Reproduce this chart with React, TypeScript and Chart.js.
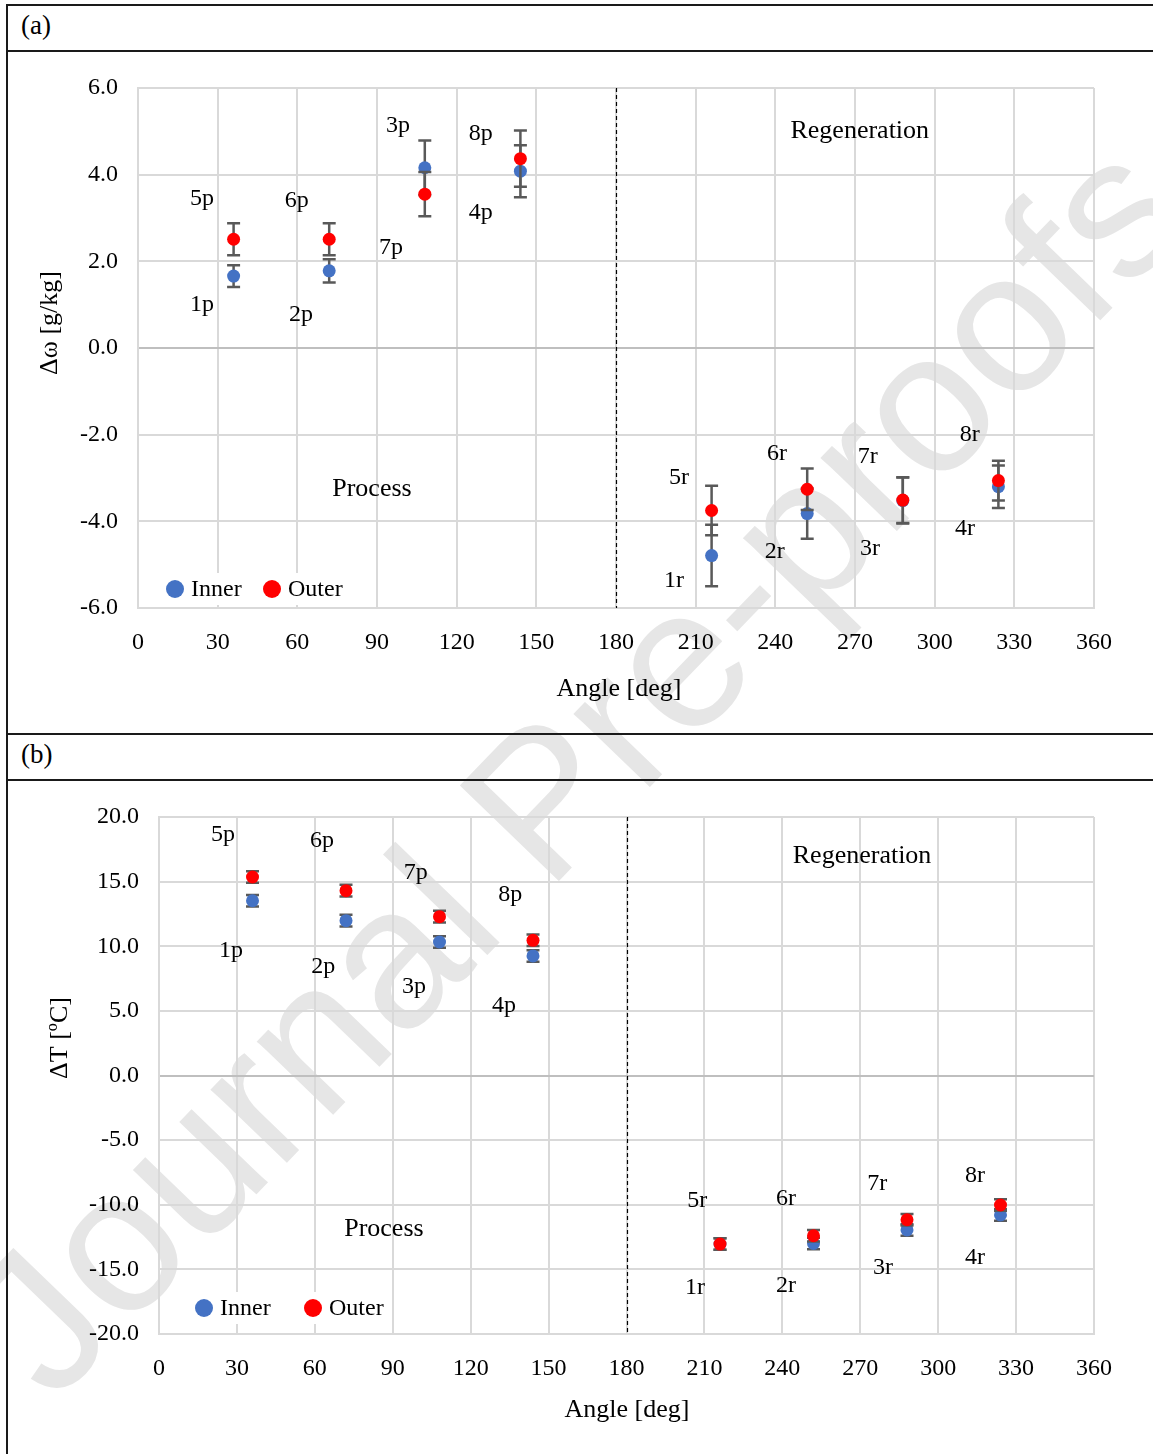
import React, { useEffect, useRef } from "react";
import { Chart, registerables } from "chart.js";

Chart.register(...registerables);

// ---------- DATA ----------
const angles = [36, 72, 108, 144, 216, 252, 288, 324];
const innerNames = ["1p", "2p", "3p", "4p", "1r", "2r", "3r", "4r"];
const outerNames = ["5p", "6p", "7p", "8p", "5r", "6r", "7r", "8r"];
const dividerAngle = 180;
const regionNames = ["Process", "Regeneration"];
const seriesNames = ["Inner", "Outer"];

// Panel (a): humidity ratio difference [g/kg]
const innerOmega = [1.66, 1.78, 4.16, 4.08, -4.79, -3.82, -3.52, -3.2];
const innerOmegaErr = [0.25, 0.27, 0.63, 0.6, 0.71, 0.58, 0.53, 0.49];
const outerOmega = [2.51, 2.51, 3.55, 4.37, -3.75, -3.26, -3.51, -3.06];
const outerOmegaErr = [0.37, 0.37, 0.51, 0.65, 0.57, 0.48, 0.53, 0.46];
const innerLabelXA = [24.1, 61.4, 97.9, 129.1, 201.8, 239.8, 275.6, 311.4];
const innerLabelYA = [1.0, 0.76, 5.14, 3.12, -5.38, -4.69, -4.64, -4.18];
const outerLabelXA = [24.1, 59.8, 95.3, 129.1, 203.7, 240.6, 274.8, 313.2];
const outerLabelYA = [3.44, 3.39, 2.31, 4.94, -3.0, -2.45, -2.52, -1.99];
const regionXA = [88.1, 271.8];
const regionYA = [-3.25, 5.0];

// Panel (b): temperature difference [ºC]
const innerTemp = [13.52, 11.98, 10.33, 9.25, -13.04, -13.0, -11.95, -10.79];
const innerTempErr = [0.45, 0.45, 0.45, 0.45, 0.45, 0.45, 0.45, 0.45];
const outerTemp = [15.36, 14.3, 12.29, 10.46, -13.04, -12.4, -11.16, -10.02];
const outerTempErr = [0.45, 0.45, 0.45, 0.45, 0.45, 0.45, 0.45, 0.45];
const innerLabelXB = [27.7, 63.2, 98.2, 132.8, 206.4, 241.4, 278.8, 314.2];
const innerLabelYB = [9.63, 8.39, 6.85, 5.38, -16.4, -16.3, -14.9, -14.1];
const outerLabelXB = [24.6, 62.8, 98.9, 135.2, 207.2, 241.4, 276.5, 314.2];
const outerLabelYB = [18.6, 18.2, 15.7, 13.97, -9.71, -9.5, -8.35, -7.74];
const regionXB = [86.6, 270.7];
const regionYB = [-11.9, 17.0];

// ---------- STYLE ----------
const SERIF = '"Liberation Serif", "Times New Roman", serif';
const INNER_COLOR = "#4472C4";
const OUTER_COLOR = "#FF0000";
const ERR_COLOR = "#595959";
const GRID = "#d9d9d9";

type Panel = {
  inner: number[];
  innerErr: number[];
  outer: number[];
  outerErr: number[];
  innerLabX: number[];
  innerLabY: number[];
  outerLabX: number[];
  outerLabY: number[];
  regionX: number[];
  regionY: number[];
  yMin: number;
  yMax: number;
  yStep: number;
  yTitle: string;
  width: number;
  height: number;
  yAxisWidth: number;
  xAxisHeight: number;
  padTop: number;
  padRight: number;
  yTitlePos: [number, number];
  xTitlePos: [number, number];
  legendDX: number;
  legendDY: number;
  legendGap: number;
};

function makeChart(canvas: HTMLCanvasElement, p: Panel) {
  const overlay = {
    id: "overlay",
    beforeDatasetsDraw(chart: any) {
      const { ctx, chartArea, scales } = chart;
      const x = scales.x;
      const dx = Math.round(x.getPixelForValue(dividerAngle)) + 0.5;
      ctx.save();
      ctx.strokeStyle = "#000";
      ctx.lineWidth = 1.2;
      ctx.setLineDash([4, 3]);
      ctx.beginPath();
      ctx.moveTo(dx, chartArea.top);
      ctx.lineTo(dx, chartArea.bottom);
      ctx.stroke();
      ctx.restore();
    },
    beforeDatasetDraw(chart: any, args: any) {
      const { ctx, scales } = chart;
      const x = scales.x;
      const y = scales.y;
      const vals = args.index === 0 ? p.inner : p.outer;
      const errs = args.index === 0 ? p.innerErr : p.outerErr;
      ctx.save();
      ctx.strokeStyle = ERR_COLOR;
      ctx.lineWidth = 2.5;
      vals.forEach((v, i) => {
        const px = x.getPixelForValue(angles[i]);
        const y1 = y.getPixelForValue(v + errs[i]);
        const y2 = y.getPixelForValue(v - errs[i]);
        ctx.beginPath();
        ctx.moveTo(px, y1);
        ctx.lineTo(px, y2);
        ctx.moveTo(px - 6.5, y1);
        ctx.lineTo(px + 6.5, y1);
        ctx.moveTo(px - 6.5, y2);
        ctx.lineTo(px + 6.5, y2);
        ctx.stroke();
      });
      ctx.restore();
    },
    afterDraw(chart: any) {
      const { ctx, chartArea, scales } = chart;
      const x = scales.x;
      const y = scales.y;
      ctx.save();
      ctx.fillStyle = "#000";
      ctx.textAlign = "center";
      ctx.textBaseline = "middle";
      ctx.font = `24px ${SERIF}`;
      innerNames.forEach((n, i) => {
        ctx.fillText(n, x.getPixelForValue(p.innerLabX[i]), y.getPixelForValue(p.innerLabY[i]));
      });
      outerNames.forEach((n, i) => {
        ctx.fillText(n, x.getPixelForValue(p.outerLabX[i]), y.getPixelForValue(p.outerLabY[i]));
      });
      ctx.font = `26px ${SERIF}`;
      regionNames.forEach((n, i) => {
        ctx.fillText(n, x.getPixelForValue(p.regionX[i]), y.getPixelForValue(p.regionY[i]));
      });
      // axis titles
      ctx.fillText("Angle [deg]", p.xTitlePos[0], p.xTitlePos[1]);
      ctx.save();
      ctx.translate(p.yTitlePos[0], p.yTitlePos[1]);
      ctx.rotate(-Math.PI / 2);
      ctx.fillText(p.yTitle, 0, 0);
      ctx.restore();
      // legend
      ctx.font = `24px ${SERIF}`;
      ctx.textAlign = "left";
      const ly = chartArea.bottom + p.legendDY;
      [INNER_COLOR, OUTER_COLOR].forEach((c, i) => {
        const cx = chartArea.left + p.legendDX + i * p.legendGap;
        const tw = ctx.measureText(seriesNames[i]).width;
        ctx.fillStyle = "#fff";
        ctx.fillRect(cx - 11, ly - 16, tw + 31, 32);
        ctx.fillStyle = c;
        ctx.beginPath();
        ctx.arc(cx, ly, 9, 0, Math.PI * 2);
        ctx.fill();
        ctx.fillStyle = "#000";
        ctx.fillText(seriesNames[i], cx + 16, ly + 1);
      });
      ctx.restore();
    },
  };

  return new Chart(canvas, {
    type: "scatter",
    data: {
      datasets: [
        {
          label: seriesNames[0],
          data: angles.map((a, i) => ({ x: a, y: p.inner[i] })),
          backgroundColor: INNER_COLOR,
          borderWidth: 0,
          pointRadius: 6.5,
          pointHoverRadius: 6.5,
          order: 2,
        },
        {
          label: seriesNames[1],
          data: angles.map((a, i) => ({ x: a, y: p.outer[i] })),
          backgroundColor: OUTER_COLOR,
          borderWidth: 0,
          pointRadius: 6.5,
          pointHoverRadius: 6.5,
          order: 1,
        },
      ],
    },
    options: {
      responsive: false,
      animation: false,
      events: [],
      layout: { padding: { top: p.padTop, right: p.padRight, left: 0, bottom: 0 } },
      plugins: { legend: { display: false }, tooltip: { enabled: false } },
      scales: {
        x: {
          type: "linear",
          min: 0,
          max: 360,
          afterFit(scale: any) {
            scale.height = p.xAxisHeight;
          },
          afterBuildTicks(scale: any) {
            const t = [];
            for (let v = 0; v <= 360; v += 30) t.push({ value: v });
            scale.ticks = t;
          },
          grid: { color: GRID, lineWidth: 2, drawTicks: false },
          border: { display: true, color: GRID, width: 2 },
          ticks: {
            color: "#000",
            font: { family: SERIF, size: 24 },
            padding: 20,
            maxRotation: 0,
            callback: (v: any) => String(v),
          },
        },
        y: {
          type: "linear",
          min: p.yMin,
          max: p.yMax,
          afterFit(scale: any) {
            scale.width = p.yAxisWidth;
          },
          grid: {
            color: (c: any) => (c.tick && c.tick.value === 0 ? "#bfbfbf" : GRID),
            lineWidth: 2,
            drawTicks: false,
          },
          border: { display: true, color: GRID, width: 2 },
          ticks: {
            color: "#000",
            font: { family: SERIF, size: 24 },
            padding: 20,
            stepSize: p.yStep,
            callback: (v: any) => Number(v).toFixed(1),
          },
        },
      },
    },
    plugins: [overlay],
  } as any);
}

const panelA: Panel = {
  inner: innerOmega,
  innerErr: innerOmegaErr,
  outer: outerOmega,
  outerErr: outerOmegaErr,
  innerLabX: innerLabelXA,
  innerLabY: innerLabelYA,
  outerLabX: outerLabelXA,
  outerLabY: outerLabelYA,
  regionX: regionXA,
  regionY: regionYA,
  yMin: -6,
  yMax: 6,
  yStep: 2,
  yTitle: "Δω [g/kg]",
  width: 1145,
  height: 681,
  yAxisWidth: 130,
  xAxisHeight: 125,
  padTop: 36,
  padRight: 59,
  yTitlePos: [42, 271],
  xTitlePos: [611, 637],
  legendDX: 37,
  legendDY: -19,
  legendGap: 97,
};

const panelB: Panel = {
  inner: innerTemp,
  innerErr: innerTempErr,
  outer: outerTemp,
  outerErr: outerTempErr,
  innerLabX: innerLabelXB,
  innerLabY: innerLabelYB,
  outerLabX: outerLabelXB,
  outerLabY: outerLabelYB,
  regionX: regionXB,
  regionY: regionYB,
  yMin: -20,
  yMax: 20,
  yStep: 5,
  yTitle: "ΔT [ºC]",
  width: 1145,
  height: 673,
  yAxisWidth: 151,
  xAxisHeight: 120,
  padTop: 36,
  padRight: 59,
  yTitlePos: [52, 257],
  xTitlePos: [619, 629],
  legendDX: 45,
  legendDY: -26,
  legendGap: 109,
};

function ChartCanvas({ panel, left, top }: { panel: Panel; left: number; top: number }) {
  const ref = useRef<HTMLCanvasElement | null>(null);
  useEffect(() => {
    if (!ref.current) return;
    const c = makeChart(ref.current, panel);
    return () => c.destroy();
  }, [panel]);
  return (
    <canvas
      ref={ref}
      width={panel.width}
      height={panel.height}
      style={{ position: "absolute", left, top, width: panel.width, height: panel.height, zIndex: 2 }}
    />
  );
}

const line = (style: React.CSSProperties): React.CSSProperties => ({
  position: "absolute",
  background: "#1a1a1a",
  zIndex: 3,
  ...style,
});

export default function App() {
  return (
    <div
      style={{
        position: "absolute",
        left: 0,
        top: 0,
        width: 1153,
        height: 1454,
        overflow: "hidden",
        background: "#fff",
      }}
    >
      {/* watermark */}
      <div
        style={{
          position: "absolute",
          left: 575,
          top: 765,
          transform: "translate(-50%, -50%) rotate(-46deg)",
          fontFamily: '"Liberation Sans", Arial, sans-serif',
          fontSize: 200,
          color: "#e6e6e6",
          whiteSpace: "nowrap",
          zIndex: 1,
          lineHeight: 1,
        }}
      >
        Journal Pre-proofs
      </div>
      {/* frame */}
      <div style={line({ left: 6, top: 4, width: 1160, height: 2 })} />
      <div style={line({ left: 6, top: 4, width: 2, height: 1460 })} />
      <div style={line({ left: 6, top: 50, width: 1160, height: 2 })} />
      <div style={line({ left: 6, top: 733, width: 1160, height: 2 })} />
      <div style={line({ left: 6, top: 779, width: 1160, height: 2 })} />
      <div
        style={{
          position: "absolute",
          left: 21,
          top: 9,
          fontFamily: SERIF,
          fontSize: 27,
          lineHeight: "32px",
          zIndex: 3,
        }}
      >
        (a)
      </div>
      <div
        style={{
          position: "absolute",
          left: 21,
          top: 738,
          fontFamily: SERIF,
          fontSize: 27,
          lineHeight: "32px",
          zIndex: 3,
        }}
      >
        (b)
      </div>
      <ChartCanvas panel={panelA} left={8} top={52} />
      <ChartCanvas panel={panelB} left={8} top={781} />
    </div>
  );
}
